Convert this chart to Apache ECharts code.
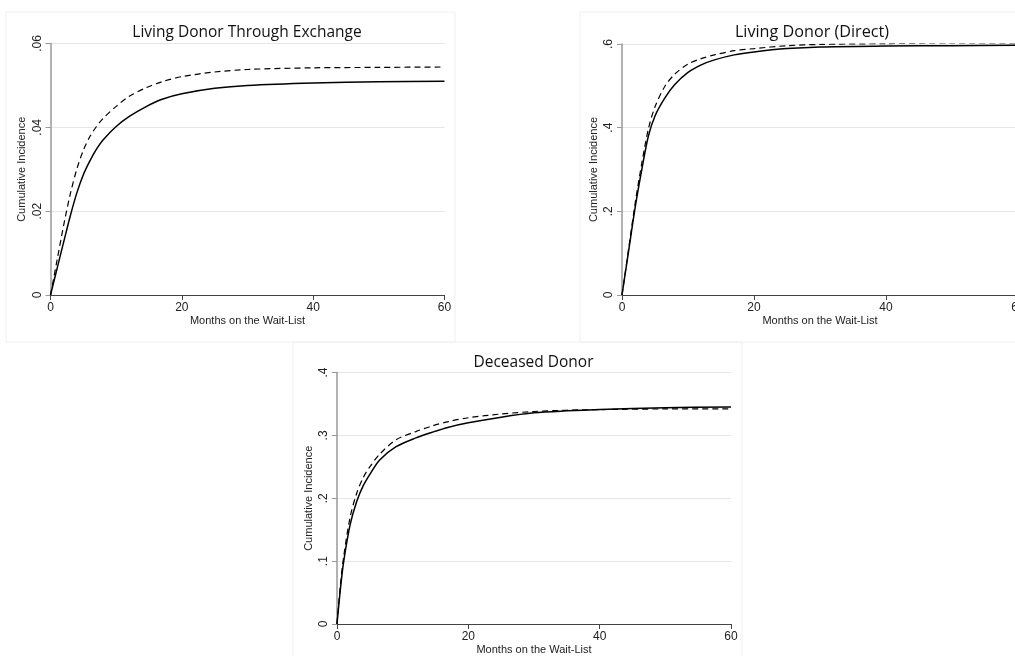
<!DOCTYPE html>
<html>
<head>
<meta charset="utf-8">
<script src="https://cdn.jsdelivr.net/npm/echarts@6/dist/echarts.min.js"></script>
<style>html,body{margin:0;padding:0;background:#fff;}#c{width:1015px;height:656px;}</style>
</head>
<body>
<div id="c"></div>
<script>
// ---- Data ----
const titles = ['Living Donor Through Exchange', 'Living Donor (Direct)', 'Deceased Donor'];
const yTicks1 = [0, 0.02, 0.04, 0.06];
const yTicks2 = [0, 0.2, 0.4, 0.6];
const yTicks3 = [0, 0.1, 0.2, 0.3, 0.4];
const xTicks = [0, 20, 40, 60];

const months1 = [0, 1, 2, 3, 4, 5, 6, 7, 8, 10, 12, 14.5, 17, 20, 25, 30, 40, 50, 60];
const exchSolid = [0, 0.0063, 0.0126, 0.0188, 0.0243, 0.0287, 0.0320, 0.0348, 0.0370, 0.0402, 0.0426, 0.0449, 0.0467, 0.0480, 0.0493, 0.0500, 0.0506, 0.0509, 0.0510];
const exchDashed = [0, 0.0083, 0.0166, 0.0240, 0.0300, 0.0345, 0.0378, 0.0402, 0.0421, 0.0450, 0.0474, 0.0494, 0.0509, 0.0521, 0.0532, 0.0538, 0.0542, 0.0543, 0.0544];

const months2 = [0, 1, 2, 3, 4, 5, 6.5, 8, 10, 12, 14, 17, 20, 25, 30, 40, 50, 60];
const directSolid = [0, 0.105, 0.210, 0.300, 0.380, 0.428, 0.471, 0.503, 0.532, 0.550, 0.562, 0.574, 0.581, 0.589, 0.593, 0.595, 0.596, 0.597];
const directDashed = [0, 0.110, 0.220, 0.315, 0.397, 0.450, 0.499, 0.528, 0.552, 0.565, 0.574, 0.584, 0.589, 0.596, 0.599, 0.601, 0.602, 0.602];

const months3 = [0, 0.5, 1, 2, 3, 4, 5, 6.5, 9, 12, 14.5, 17, 20, 25, 30, 35, 40, 50, 60];
const deceasedSolid = [0, 0.054, 0.098, 0.158, 0.195, 0.220, 0.238, 0.261, 0.282, 0.296, 0.305, 0.313, 0.320, 0.329, 0.336, 0.339, 0.341, 0.344, 0.345];
const deceasedDashed = [0, 0.060, 0.106, 0.170, 0.208, 0.233, 0.250, 0.270, 0.293, 0.306, 0.315, 0.322, 0.328, 0.334, 0.338, 0.340, 0.341, 0.342, 0.342];

// ---- Build ----
function pairs(xs, ys) { return xs.map((x, i) => [x, ys[i]]); }
function fmtY(v) {
  if (v === 0) return '0';
  let s = String(+v.toFixed(4));
  return s.replace(/^0\./, '.');
}
const FONT = 'Liberation Sans, Arial, sans-serif';
const grids = [
  { left: 50.5, top: 43.5, width: 394, height: 251.5 },
  { left: 622, top: 44, width: 396, height: 251 },
  { left: 337, top: 372.5, width: 394, height: 251.5 }
];
const titleLayout = [
  { cx: 247, top: 25, size: 15.5 },
  { cx: 812, top: 24, size: 16.2 },
  { cx: 533.5, top: 355, size: 15.5 }
];
const yTickSets = [yTicks1, yTicks2, yTicks3];
const xAxes = [], yAxes = [], series = [], titleOpts = [];
const dataSets = [[months1, exchSolid, exchDashed], [months2, directSolid, directDashed], [months3, deceasedSolid, deceasedDashed]];

grids.forEach((g, i) => {
  const yt = yTickSets[i];
  const step = yt[1] - yt[0];
  xAxes.push({
    type: 'value', gridIndex: i, min: xTicks[0], max: xTicks[xTicks.length - 1], interval: 20,
    name: 'Months on the Wait-List', nameLocation: 'middle', nameGap: 20,
    nameTextStyle: { fontFamily: FONT, fontSize: 11, color: '#222' },
    axisLine: { show: true, lineStyle: { color: '#444', width: 1 } },
    axisTick: { show: true, inside: false, length: 5, lineStyle: { color: '#444' } },
    axisLabel: { fontFamily: FONT, fontSize: 12, color: '#222', margin: 7 },
    splitLine: { show: false }
  });
  yAxes.push({
    type: 'value', gridIndex: i, min: yt[0], max: yt[yt.length - 1], interval: step,
    name: 'Cumulative Incidence', nameLocation: 'middle', nameGap: 23, nameRotate: 90,
    nameTextStyle: { fontFamily: FONT, fontSize: 11, color: '#222' },
    axisLine: { show: true, onZero: false, lineStyle: { color: '#999', width: 1.5 } },
    axisTick: { show: true, length: 5, lineStyle: { color: '#999' } },
    axisLabel: { fontFamily: FONT, fontSize: 12, color: '#222', rotate: 90, margin: 7, formatter: fmtY },
    splitLine: { show: true, lineStyle: { color: '#e6e6e6', width: 1 } }
  });
  const [mx, s, d] = dataSets[i];
  series.push({
    name: 'Solid', type: 'line', xAxisIndex: i, yAxisIndex: i, data: pairs(mx, s),
    smooth: 0.3, symbol: 'none', lineStyle: { color: '#000', width: 1.5, type: 'solid' }
  });
  series.push({
    name: 'Dashed', type: 'line', xAxisIndex: i, yAxisIndex: i, data: pairs(mx, d),
    smooth: 0.3, symbol: 'none', lineStyle: { color: '#000', width: 1.2, type: [6, 4] }
  });
  const tl = titleLayout[i];
  titleOpts.push({
    text: titles[i], left: tl.cx, top: tl.top, textAlign: 'center', padding: 0,
    textStyle: { fontFamily: 'Open Sans, sans-serif', fontSize: tl.size, fontWeight: 'normal', color: '#111' }
  });
});

const chart = echarts.init(document.getElementById('c'), null, { renderer: 'canvas' });
chart.setOption({
  backgroundColor: '#fff',
  animation: false,
  graphic: [
    { type: 'rect', shape: { x: 6, y: 12, width: 449, height: 330 }, style: { fill: 'none', stroke: '#f0f0f0', lineWidth: 1 }, silent: true, z: -10 },
    { type: 'rect', shape: { x: 580, y: 12, width: 440, height: 330 }, style: { fill: 'none', stroke: '#f0f0f0', lineWidth: 1 }, silent: true, z: -10 },
    { type: 'rect', shape: { x: 293, y: 342, width: 449, height: 320 }, style: { fill: 'none', stroke: '#f0f0f0', lineWidth: 1 }, silent: true, z: -10 }
  ],
  title: titleOpts,
  grid: grids.map(g => Object.assign({ containLabel: false, outerBoundsMode: 'none' }, g)),
  xAxis: xAxes,
  yAxis: yAxes,
  series: series
});
</script>
</body>
</html>
